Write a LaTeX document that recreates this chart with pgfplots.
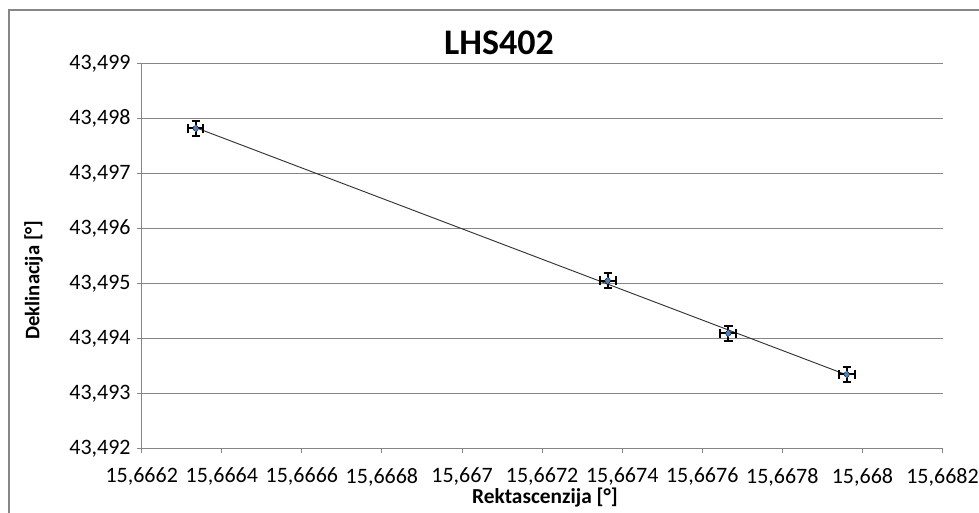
\documentclass[border=0pt]{standalone}
\usepackage{fontspec}
\setmainfont{Carlito}
\usepackage{pgfplots}
\pgfplotsset{compat=1.18}
\definecolor{gridgray}{HTML}{868686}
\definecolor{markblue}{HTML}{4F81BD}
\begin{document}
\begin{tikzpicture}[x=0.75pt,y=0.75pt]
\useasboundingbox (0,0) rectangle (979,512);
% chart frame: only the left and top edges fall inside the picture
\draw[gridgray, line width=1.4pt] (9.3,-10) -- (9.3,501.7) -- (1000,501.7);
\begin{axis}[
  at={(106.275pt,47.775pt)}, anchor=south west,
  scale only axis, width=600.6pt, height=288.75pt,
  xmin=15.6662, xmax=15.6682, ymin=43.492, ymax=43.499,
  xtick={15.6662,15.6664,15.6666,15.6668,15.667,15.6672,15.6674,15.6676,15.6678,15.668,15.6682},
  ytick={43.492,43.493,43.494,43.495,43.496,43.497,43.498,43.499},
  scaled ticks=false,
  axis x line*=bottom, axis y line*=left,
  axis line style={-, gridgray, line width=0.75pt},
  ymajorgrids, major grid style={gridgray, line width=0.75pt},
  tick align=outside, major tick length=3.75pt,
  tick style={gridgray, line width=0.75pt},
  ticklabel style={font=\fontsize{16.5}{20}\selectfont, text=black},
  /pgf/number format/.cd, use comma, fixed, 1000 sep={}, assume math mode=true,
  /pgfplots/.cd,
  xticklabel style={/pgf/number format/precision=4, yshift=-7.6pt},
  yticklabel style={/pgf/number format/precision=3, xshift=-1.2pt},
  clip=false,
]
% linear trend line through the four positions
\addplot[black!80, line width=0.7pt, no marks] coordinates {
  (15.666335,43.49783) (15.667961,43.493334)
};
% uncertainties in both coordinates
\addplot[only marks, mark=none,
  error bars/.cd,
    x dir=both, x explicit, y dir=both, y explicit,
    error bar style={black, line width=1.4pt},
    error mark options={black, line width=1.4pt, mark size=3.2pt, rotate=90}]
  coordinates {
  (15.666335,43.497818) +- (0.00002,0.00014)
  (15.667364,43.495047) +- (0.00002,0.00014)
  (15.667665,43.494091) +- (0.00002,0.00014)
  (15.667961,43.493345) +- (0.00002,0.00014)
};
% measured positions on top
\addplot[only marks, mark=diamond*, mark size=2.4pt,
  mark options={fill=markblue, draw=markblue}]
  coordinates {
  (15.666335,43.497818)
  (15.667364,43.495047)
  (15.667665,43.494091)
  (15.667961,43.493345)
};
\end{axis}
\node[anchor=base, font=\fontsize{27}{32}\selectfont\bfseries] at (499,457) {LHS402};
\node[anchor=base, font=\fontsize{16}{19}\selectfont\bfseries] at (545,9) {Rektascenzija [°]};
\node[rotate=90, font=\fontsize{15.5}{19}\selectfont\bfseries] at (33.5,232) {Deklinacija [°]};
\end{tikzpicture}
\end{document}
